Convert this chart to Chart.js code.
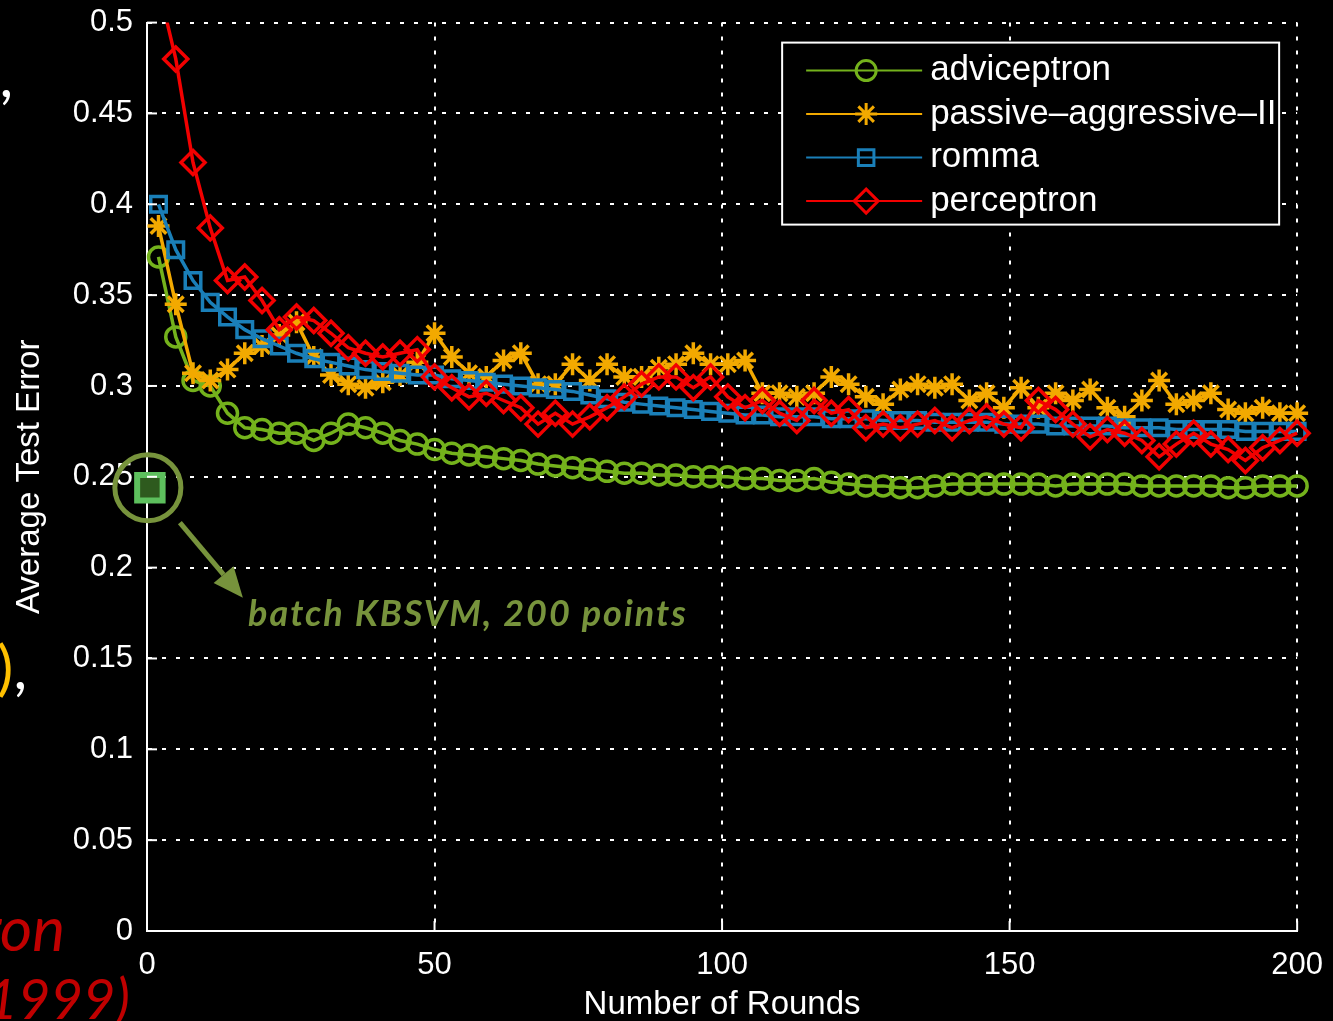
<!DOCTYPE html>
<html>
<head>
<meta charset="utf-8">
<script src="https://cdn.jsdelivr.net/npm/chart.js@4.4.0/dist/chart.umd.min.js"></script>
<style>
  html, body { margin: 0; padding: 0; background: #000; }
  #wrap { position: relative; width: 1333px; height: 1021px; overflow: hidden; background: #000; }
  #chart { position: absolute; left: 0; top: -10px; }
  .frag { position: absolute; white-space: nowrap; text-align: right; line-height: 1; }
  #note { position: absolute; left: 248px; top: 594px; font: italic 700 36px Lato, "Open Sans", sans-serif;
          letter-spacing: 2px; color: #77933c; white-space: nowrap; line-height: 1; }
</style>
</head>
<body>
<div id="wrap">
  <canvas id="chart" width="1339" height="1031"></canvas>
  <div class="frag" style="right:1320px; top:38px; font: 60px Lato, sans-serif; color:#fff;">Perceptron,</div>
  <div class="frag" style="right:1306px; top:630px; font: 60px Lato, sans-serif; color:#ffc000;">(2005)<span style="color:#fff">,</span></div>
  <div class="frag" style="right:1268px; top:890px; font: italic 62px Lato, sans-serif; color:#c00000;">Perceptron</div>
  <div class="frag" style="right:1203px; top:964px; font: italic 56px Lato, sans-serif; color:#c00000;">(1999)</div>
  <div id="note">batch KBSVM, 200 points</div>
</div>
<script>
// rounds at which the error was measured
const rounds = [2,5,8,11,14,17,20,23,26,29,32,35,38,41,44,47,50,53,56,59,62,65,68,71,74,77,80,83,86,89,92,95,98,101,104,107,110,113,116,119,122,125,128,131,134,137,140,143,146,149,152,155,158,161,164,167,170,173,176,179,182,185,188,191,194,197,200];

const adviceptron = [.371,.327,.303,.300,.285,.277,.276,.274,.274,.270,
  .274,.279,.277,.274,.270,.268,.265,.263,.262,.261,
  .260,.259,.257,.256,.255,.254,.253,.252,.252,.251,
  .251,.250,.250,.250,.249,.249,.248,.248,.249,.247,
  .246,.245,.245,.244,.244,.245,.246,.246,.246,.246,
  .246,.246,.245,.246,.246,.246,.246,.245,.245,.245,
  .245,.245,.244,.244,.245,.245,.245];

const passiveAggressive = [.388,.345,.307,.303,.309,.318,.322,.328,.335,.316,
  .306,.301,.299,.302,.306,.313,.329,.316,.307,.305,
  .314,.318,.301,.301,.312,.303,.312,.305,.305,.310,
  .312,.318,.312,.312,.314,.296,.296,.294,.296,.305,
  .301,.294,.290,.298,.301,.299,.301,.292,.296,.288,
  .299,.288,.296,.292,.298,.288,.283,.292,.303,.290,
  .292,.296,.287,.285,.288,.285,.285];

const romma = [.400,.375,.358,.346,.338,.331,.326,.322,.318,.315,
  .313,.311,.309,.308,.307,.306,.306,.304,.303,.302,
  .301,.300,.299,.298,.297,.295,.293,.291,.290,.289,
  .288,.287,.286,.285,.284,.284,.283,.283,.283,.282,
  .282,.282,.281,.281,.281,.280,.280,.280,.280,.279,
  .279,.279,.278,.278,.278,.278,.277,.277,.277,.276,
  .276,.276,.276,.275,.275,.275,.275];

const perceptron = [.520,.480,.423,.387,.358,.360,.347,.331,.338,.336,
  .329,.321,.318,.316,.318,.320,.305,.299,.294,.296,
  .292,.288,.279,.285,.279,.283,.288,.294,.301,.305,
  .305,.299,.305,.294,.288,.292,.285,.281,.292,.285,
  .287,.277,.279,.277,.279,.281,.277,.281,.283,.279,
  .277,.292,.287,.279,.272,.276,.274,.270,.261,.268,
  .274,.268,.265,.259,.266,.270,.274];

// single batch result marked on the y axis
const kbsvmRounds = [0.5];
const kbsvmError = [0.244];

const yTicks = ['0','0.05','0.1','0.15','0.2','0.25','0.3','0.35','0.4','0.45','0.5'];

const toPts = (xs, ys) => xs.map((x, i) => ({ x: x, y: ys[i] }));
const FONT = 'Liberation Sans, Arial, sans-serif';

function series(label, ys, color, style, radius, order) {
  return {
    label: label, data: toPts(rounds, ys), order: order,
    borderColor: color, borderWidth: 3.5, backgroundColor: 'transparent',
    pointStyle: style, pointRadius: radius, pointBorderWidth: 3.5,
    pointBorderColor: color, pointBackgroundColor: 'transparent',
    tension: 0, clip: { left: 20, right: 20, top: 0, bottom: 20 }
  };
}

const datasets = [
  series('adviceptron', adviceptron, '#74b21c', 'circle', 10, 3),
  series('passive–aggressive–II', passiveAggressive, '#f2a900', 'star', 11, 2),
  series('romma', romma, '#1a7fb8', 'rect', 11, 1),
  series('perceptron', perceptron, '#f20000', 'rectRot', 12, 0),
  {
    label: 'batch KBSVM', data: toPts(kbsvmRounds, kbsvmError), order: -1,
    showLine: false, pointStyle: 'rect', pointRadius: 18, pointBorderWidth: 6,
    pointBackgroundColor: '#2e5a1e', pointBorderColor: '#5dbf5d', clip: false
  }
];

// legend box drawn by hand inside the plot area (matlab style)
const legendBox = {
  id: 'legendBox',
  afterDraw(chart) {
    const ctx = chart.ctx, a = chart.chartArea;
    const bx = a.right - 515, by = a.top + 20, bw = 497, bh = 182;
    ctx.save();
    ctx.fillStyle = '#000';
    ctx.fillRect(bx, by, bw, bh);
    ctx.strokeStyle = '#fff';
    ctx.lineWidth = 2;
    ctx.strokeRect(bx, by, bw, bh);
    ctx.beginPath();
    ctx.rect(bx, by, bw, bh);
    ctx.clip();
    datasets.slice(0, 4).forEach((ds, i) => {
      const y = by + 28 + i * 43.5, x0 = bx + 24, x1 = bx + 140, xm = bx + 84;
      ctx.strokeStyle = ds.borderColor;
      ctx.lineWidth = 2;
      ctx.beginPath(); ctx.moveTo(x0, y); ctx.lineTo(x1, y); ctx.stroke();
      ctx.lineWidth = 3;
      const r = ds.pointRadius;
      ctx.beginPath();
      if (ds.pointStyle === 'circle') {
        ctx.arc(xm, y, r, 0, Math.PI * 2);
      } else if (ds.pointStyle === 'star') {
        for (let k = 0; k < 4; k++) {
          const t = k * Math.PI / 4;
          ctx.moveTo(xm - r * Math.cos(t), y - r * Math.sin(t));
          ctx.lineTo(xm + r * Math.cos(t), y + r * Math.sin(t));
        }
      } else if (ds.pointStyle === 'rect') {
        const s = r * Math.SQRT1_2;
        ctx.rect(xm - s, y - s, 2 * s, 2 * s);
      } else {
        ctx.moveTo(xm, y - r); ctx.lineTo(xm + r, y); ctx.lineTo(xm, y + r); ctx.lineTo(xm - r, y); ctx.closePath();
      }
      ctx.stroke();
      ctx.fillStyle = '#fff';
      ctx.font = '35px ' + FONT;
      ctx.textBaseline = 'middle';
      ctx.fillText(ds.label, bx + 148, y);
    });
    ctx.restore();
  }
};

// inward ticks, circle + arrow around the batch point
const extras = {
  id: 'extras',
  afterDraw(chart) {
    const ctx = chart.ctx, a = chart.chartArea;
    const xs = chart.scales.x, ys = chart.scales.y;
    ctx.save();
    ctx.strokeStyle = '#fff';
    ctx.lineWidth = 2;
    ys.ticks.forEach(t => {
      const p = ys.getPixelForValue(t.value);
      ctx.beginPath(); ctx.moveTo(a.left, p); ctx.lineTo(a.left + 10, p); ctx.stroke();
    });
    xs.ticks.forEach(t => {
      const p = xs.getPixelForValue(t.value);
      ctx.beginPath(); ctx.moveTo(p, a.bottom); ctx.lineTo(p, a.bottom - 10); ctx.stroke();
    });
    const cx = xs.getPixelForValue(kbsvmRounds[0]) - 2;
    const cy = ys.getPixelForValue(kbsvmError[0]);
    ctx.strokeStyle = '#77933c';
    ctx.fillStyle = '#77933c';
    ctx.lineWidth = 5;
    ctx.beginPath(); ctx.arc(cx, cy, 33, 0, Math.PI * 2); ctx.stroke();
    const sx = cx + 32, sy = cy + 35, ex = cx + 95, ey = cy + 110;
    const ang = Math.atan2(ey - sy, ex - sx);
    const hl = 30, hw = 13;
    const bxp = ex - hl * Math.cos(ang), byp = ey - hl * Math.sin(ang);
    ctx.beginPath(); ctx.moveTo(sx, sy); ctx.lineTo(bxp, byp); ctx.stroke();
    ctx.beginPath();
    ctx.moveTo(ex, ey);
    ctx.lineTo(bxp + hw * Math.sin(ang), byp - hw * Math.cos(ang));
    ctx.lineTo(bxp - hw * Math.sin(ang), byp + hw * Math.cos(ang));
    ctx.closePath(); ctx.fill();
    ctx.restore();
  }
};

new Chart(document.getElementById('chart'), {
  type: 'line',
  data: { datasets: datasets },
  options: {
    responsive: false,
    animation: false,
    devicePixelRatio: 1,
    layout: { padding: { top: 12, right: 30, left: 0, bottom: 0 } },
    plugins: { legend: { display: false }, tooltip: { enabled: false } },
    scales: {
      x: {
        type: 'linear', min: 0, max: 200,
        ticks: { stepSize: 50, color: '#fff', font: { family: FONT, size: 31 }, padding: 16, maxRotation: 0 },
        grid: { color: '#fff', lineWidth: 2, drawTicks: false },
        border: { display: true, color: '#fff', width: 2, dash: [4, 10] },
        title: { display: true, text: 'Number of Rounds', color: '#fff', font: { family: FONT, size: 33, lineHeight: 1 }, padding: { top: 0, bottom: 0 } },
        afterFit(s) { s.height = 90; }
      },
      y: {
        type: 'linear', min: 0, max: 0.5,
        ticks: { stepSize: 0.05, color: '#fff', font: { family: FONT, size: 31 }, padding: 14,
                 callback: (v) => yTicks[Math.round(v / 0.05)] },
        grid: { color: '#fff', lineWidth: 2, drawTicks: false },
        border: { display: true, color: '#fff', width: 2, dash: [4, 10] },
        title: { display: true, text: 'Average Test Error', color: '#fff', font: { family: FONT, size: 33, lineHeight: 1.2 }, padding: { top: 10, bottom: 0 } },
        afterFit(s) { s.width = 147; }
      }
    }
  },
  plugins: [legendBox, extras]
});
</script>
</body>
</html>
